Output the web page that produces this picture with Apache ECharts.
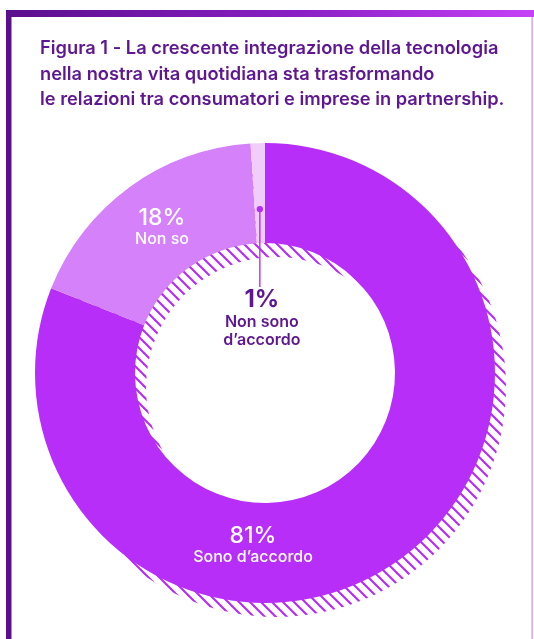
<!DOCTYPE html>
<html>
<head>
<meta charset="utf-8">
<script src="https://cdn.jsdelivr.net/npm/echarts@6/dist/echarts.min.js"></script>
<style>
  html, body { margin: 0; padding: 0; background: #ffffff; }
  #chart { width: 534px; height: 639px; }
</style>
</head>
<body>
<div id="chart"></div>
<script>
// Survey answers (share of respondents, %)
const categories = ['Sono d’accordo', 'Non so', 'Non sono d’accordo'];
const values = [81, 18, 1];
const sliceColors = ['#b82ef9', '#d581f9', '#f0cdfb'];
const titleLines = [
  'Figura 1 - La crescente integrazione della tecnologia',
  'nella nostra vita quotidiana sta trasformando',
  'le relazioni tra consumatori e imprese in partnership.'
];

const FONT = 'Inter, "Noto Sans", sans-serif';
const CX = 265, CY = 373, R_IN = 130, R_OUT = 230;
const SHADOW_DX = 11, SHADOW_DY = 14;

// diagonal hatch tile for the offset shadow ring
function hatchTile() {
  const s = 11;
  const c = document.createElement('canvas');
  c.width = s; c.height = s;
  const g = c.getContext('2d');
  g.strokeStyle = '#b52cf6';
  g.lineWidth = 2.1;
  g.lineCap = 'square';
  [-s, 0, s].forEach(function (o) {
    g.beginPath();
    g.moveTo(o, 0);
    g.lineTo(o + s, s);
    g.stroke();
  });
  return c;
}

const total = values.reduce(function (a, b) { return a + b; }, 0);
// mid angle (clockwise from 12 o'clock) of a slice
function midAngle(i) {
  let acc = 0;
  for (let k = 0; k < i; k++) acc += values[k];
  return ((acc + values[i] / 2) / total) * 2 * Math.PI;
}

const chart = echarts.init(document.getElementById('chart'), null, { renderer: 'canvas' });

// position of the small-slice marker dot
const dotR = 164;
const dotA = midAngle(2);
const dotX = CX + dotR * Math.sin(dotA);
const dotY = CY - dotR * Math.cos(dotA);

const labelPos = [
  { x: 253, y: 545 },
  { x: 162, y: 227 },
  { x: dotX + 2, y: 318 }
];

chart.setOption({
  animation: false,
  title: {
    text: titleLines.join('\n'),
    left: 40,
    top: 36,
    padding: 0,
    textStyle: {
      fontFamily: FONT,
      fontSize: 18.3,
      fontWeight: 600,
      color: '#5f1791',
      lineHeight: 25.5
    }
  },
  graphic: [
    {
      type: 'rect',
      shape: { x: 6, y: 10, width: 528, height: 7 },
      style: {
        fill: new echarts.graphic.LinearGradient(0, 0, 1, 0, [
          { offset: 0, color: '#5a0f8d' },
          { offset: 0.55, color: '#8a1fc4' },
          { offset: 1, color: '#c542f7' }
        ])
      },
      z: 10
    },
    {
      type: 'rect',
      shape: { x: 6, y: 10, width: 5.5, height: 629 },
      style: { fill: '#5a0f8d' },
      z: 10
    },
    {
      type: 'rect',
      shape: { x: 531.5, y: 17, width: 1.2, height: 622 },
      style: { fill: '#d18cf3' },
      z: 10
    },
    {
      type: 'circle',
      shape: { cx: dotX, cy: dotY, r: 3.2 },
      style: { fill: '#b52cf6' },
      z: 20
    },
    {
      // leader from the small slice down to its label
      type: 'line',
      shape: { x1: dotX, y1: dotY, x2: dotX, y2: 287 },
      style: { stroke: '#b52cf6', lineWidth: 1.4 },
      z: 20
    }
  ],
  series: [
    {
      // hatched ring, offset down-right behind the donut
      type: 'pie',
      silent: true,
      z: 1,
      center: [CX + SHADOW_DX, CY + SHADOW_DY],
      radius: [R_IN, R_OUT],
      startAngle: 90,
      label: { show: false },
      labelLine: { show: false },
      data: [{ value: total, itemStyle: { color: { image: hatchTile(), repeat: 'repeat' } } }]
    },
    {
      type: 'pie',
      z: 2,
      center: [CX, CY],
      radius: [R_IN, R_OUT],
      startAngle: 90,
      clockwise: true,
      avoidLabelOverlap: false,
      labelLine: { show: false },
      data: categories.map(function (name, i) {
        const dark = i === 2;
        return {
          name: name,
          value: values[i],
          itemStyle: { color: sliceColors[i] },
          label: {
            show: true,
            position: 'inside',
            formatter: dark
              ? '{p|' + values[i] + '%}\n{n|Non sono}\n{n|d’accordo}'
              : '{p|' + values[i] + '%}\n{n|' + name + '}',
            rich: {
              p: {
                fontFamily: FONT,
                fontSize: dark ? 24 : 23,
                fontWeight: dark ? 700 : 500,
                color: dark ? '#5f1791' : '#ffffff',
                lineHeight: dark ? 26 : 24,
                align: 'center'
              },
              n: {
                fontFamily: FONT,
                fontSize: 16,
                fontWeight: dark ? 600 : 500,
                color: dark ? '#5f1791' : '#ffffff',
                lineHeight: dark ? 18.5 : 18,
                align: 'center'
              }
            }
          }
        };
      }),
      labelLayout: function (params) {
        const p = labelPos[params.dataIndex];
        return { x: p.x, y: p.y, align: 'center', verticalAlign: 'middle' };
      }
    }
  ]
});
</script>
</body>
</html>
